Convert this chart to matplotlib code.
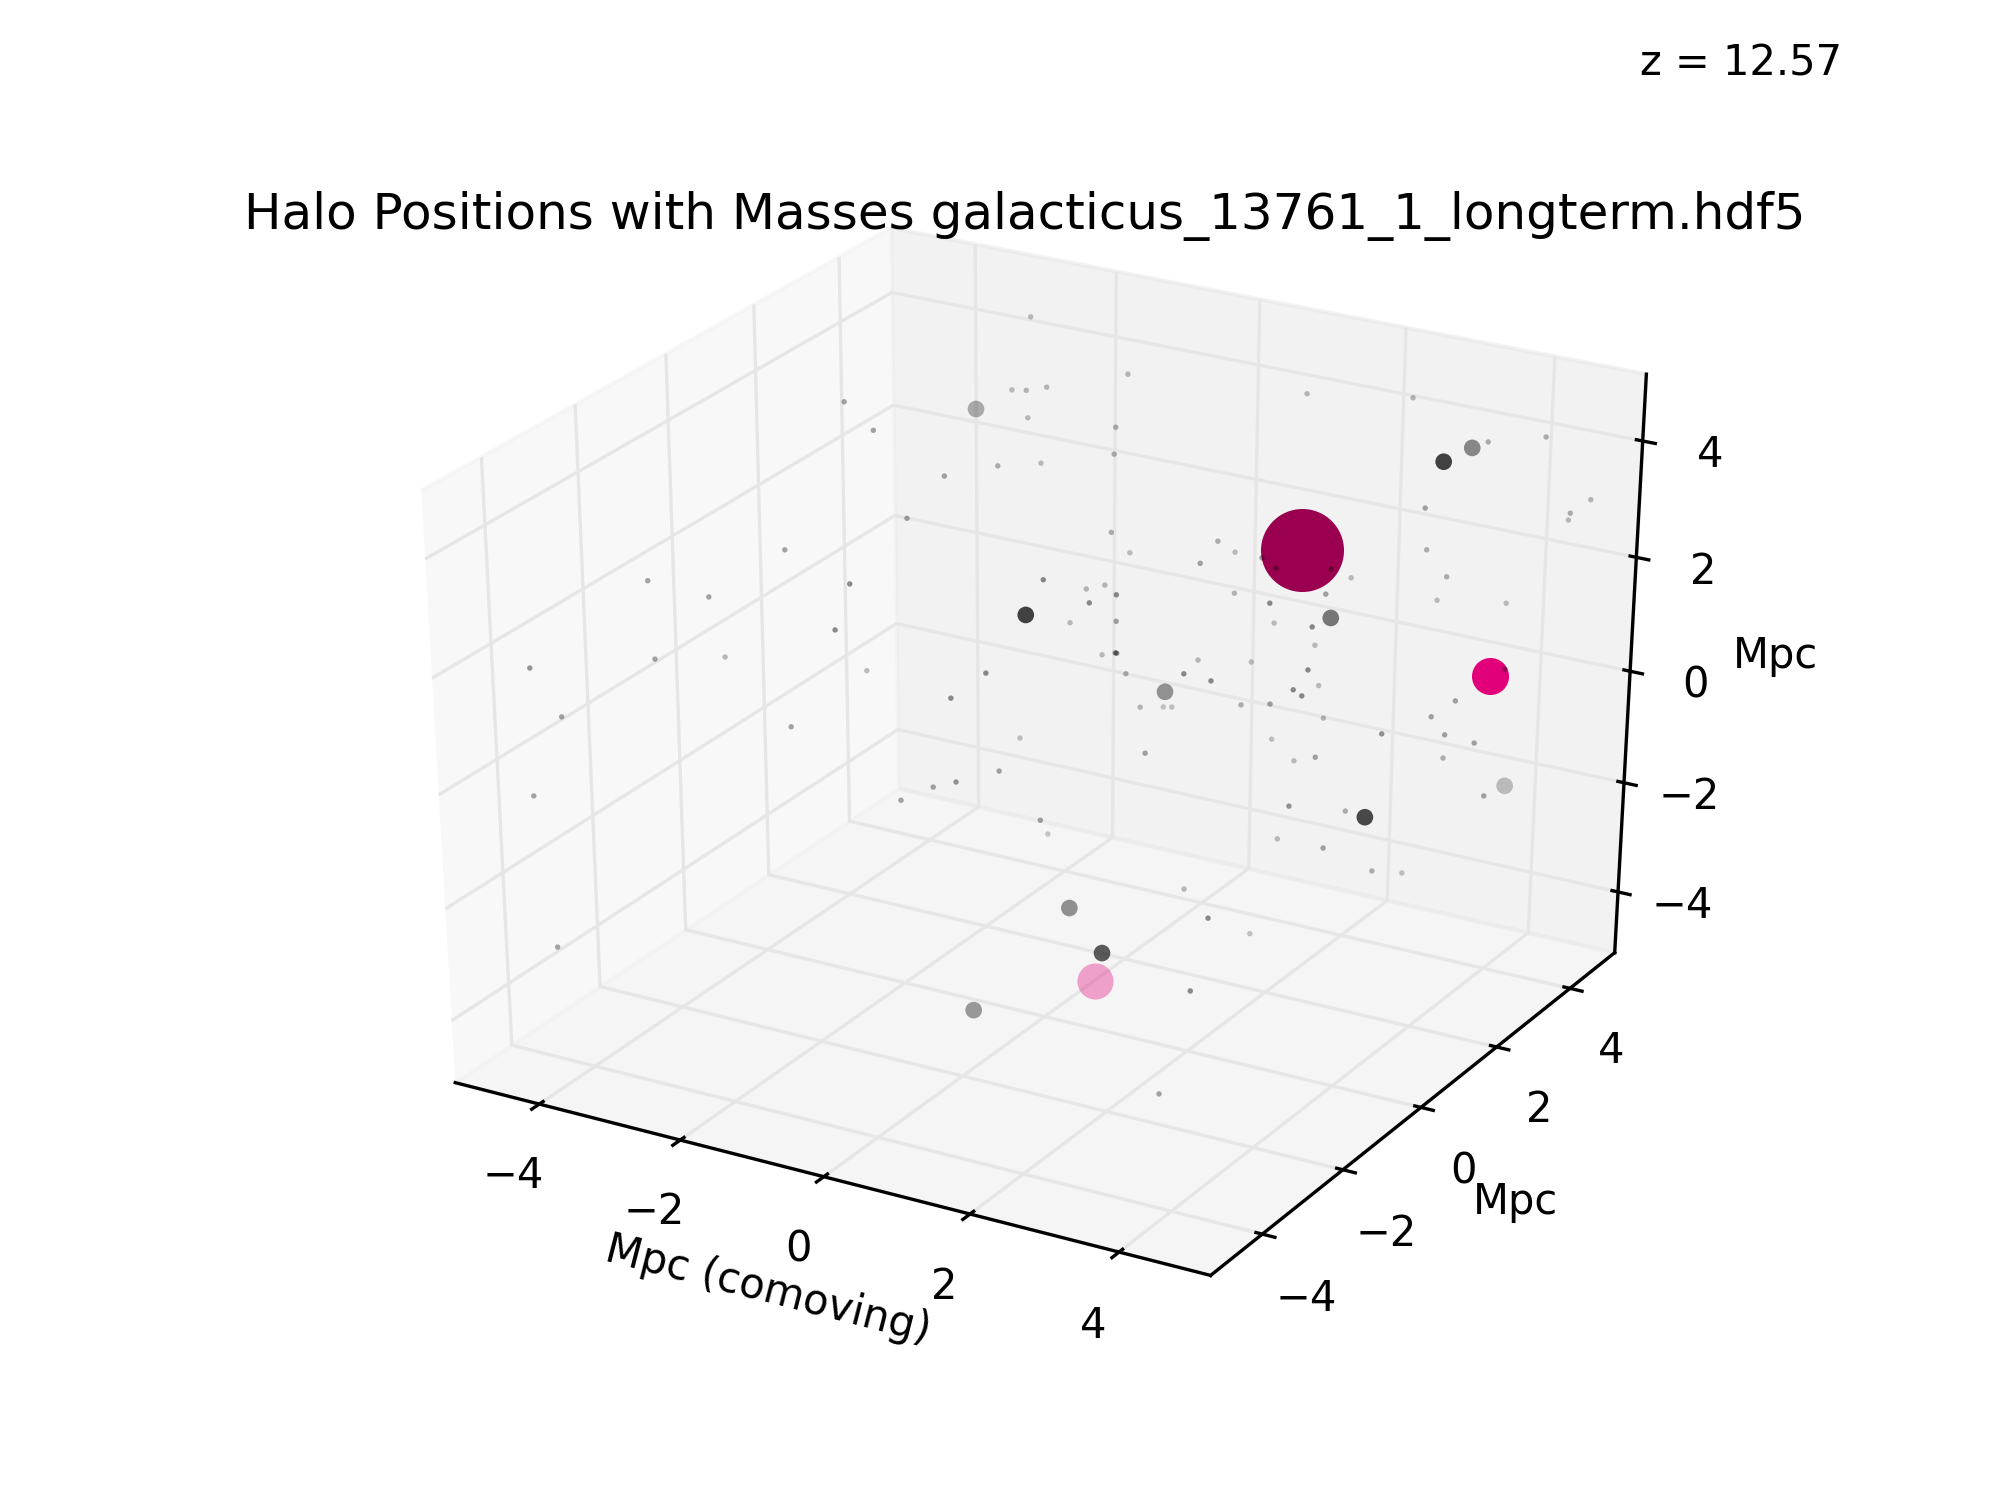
import numpy as np
import matplotlib
matplotlib.use("Agg")
import matplotlib.pyplot as plt

# small halos, read against a +-5 box (depth is a guess, one view only gives two coordinates)
small_x = [-2.62,-2.24,-1.31,-1.81,-3.46,-4.05,-4.52,-2.59,-2.80,-4.36,-3.99,-4.32,-2.38,-2.50,-1.19,-1.59,-1.40,-1.13,-1.38,-0.22,0.89,-0.61,-0.05,1.18,2.55,4.26,3.53,4.86,4.61,4.59,3.77,0.86,1.10,2.22,2.44,2.00,2.78,2.96,3.65,3.90,4.82,4.07,
           3.96,4.83,-0.02,0.54,0.78,0.93,0.58,0.33,0.93,2.44,2.89,3.59,2.95,3.43,3.47,0.75,0.92,0.94,1.99,2.67,-0.78,1.06,1.81,2.16,3.39,3.53,3.21,3.32,4.85,4.24,-3.96,-4.39,-4.16,-3.43,-1.25,-0.33,-0.61,-1.19,-1.50,-1.94,-0.06,0.04,
           1.25,1.55,1.66,2.55,2.92,3.60,2.95,1.32,3.24,3.51,4.95,4.12,4.50,4.34,4.11,4.65,3.19,3.91,3.05,3.64,4.27,4.65,1.85,2.17,2.72,1.95,2.66]
small_y = [0,0,0,0,0,-2,0,0,0,-4,-2,0,0,4,4,2,2,2,2,2,0,0,0,4,4,4,4,4,4,4,2,0,0,0,0,0,0,0,0,0,0,2,
           2,2,0,0,0,0,0,0,0,0,0,0,0,0,0,0,0,0,0,0,0,0,0,0,0,0,0,0,2,2,-4,-4,-4,0,0,0,0,0,0,0,0,0,
           0,0,0,0,0,0,0,0,0,0,0,2,2,0,2,2,0,0,0,0,0,0,0,0,0,0,-2]
small_z = [4.81,4.44,3.93,3.10,2.13,2.39,1.04,1.79,0.95,1.81,1.09,0.06,0.37,4.52,3.88,4.39,4.43,4.55,3.98,4.12,4.86,4.28,4.47,4.15,4.43,4.22,3.95,3.34,3.05,2.93,3.83,3.58,3.31,3.80,3.68,3.38,3.68,3.56,3.73,3.66,4.36,2.78,
           2.36,2.55,2.56,2.56,2.69,2.57,2.34,1.94,2.13,3.01,2.97,3.31,2.66,2.73,2.44,1.52,1.60,1.60,1.78,1.94,0.78,1.29,1.50,1.48,2.01,1.79,1.63,1.56,1.46,0.75,1.11,-0.35,-2.89,-0.90,0.22,-0.20,-0.85,-1.21,-1.39,-1.75,-1.54,-1.75,
           0.78,0.87,0.90,1.19,1.31,1.27,0.73,0.02,0.45,0.59,1.68,0.14,0.11,1.22,-0.26,-0.75,-0.33,-0.20,-0.93,-0.91,-1.11,-1.03,-2.16,-2.57,-2.67,-3.92,-4.39]
small_alpha = [.34,.34,.34,.34,.34,.34,.34,.44,.44,.4,.34,.26,.24,.24,.26,.24,.26,.26,.24,.29,.29,.29,.24,.26,.26,.29,.29,.26,.29,.24,.34,.29,.24,.29,.24,.34,.34,.34,.34,.24,.29,.29,
               .24,.24,.44,.26,.26,.44,.44,.24,.34,.26,.44,.34,.24,.44,.24,.24,.44,.44,.26,.22,.44,.29,.44,.44,.44,.24,.44,.44,.34,.34,.34,.34,.34,.34,.44,.22,.34,.4,.34,.34,.34,.2,
               .26,.2,.22,.29,.34,.26,.22,.34,.24,.34,.34,.34,.34,.4,.29,.34,.4,.29,.24,.34,.29,.22,.26,.44,.22,.44,.34]

# mid sized halos
mid_x = [-2.07,3.33,3.98,-0.25,3.66,1.57,4.91,4.16,0.77,0.33,0.21]
mid_y = [2,4,2,0,0,0,2,0,0,0,-2]
mid_z = [3.95,3.80,4.64,1.91,2.94,1.13,-0.50,-0.23,-3.62,-2.96,-3.71]
mid_alpha = [.3,.44,.735,.735,.51,.4,.23,.7,.63,.41,.375]

# the three main progenitors
main_x = [3.28,4.67,0.68]
main_y = [0,2,0]
main_z = [3.94,1.29,-4.15]
main_size = [397,79,75]
main_color = ["#9b0050","#e2007a","#e2007a"]
main_alpha = [1,1,0.35]

x_lim = 5.21
y_lim = 5.25
z_lim = 5.13


def black_with_alpha(alpha):
    rgba = np.zeros((len(alpha), 4))
    rgba[:, 3] = alpha
    return rgba


plt.rcParams['grid.color'] = (0.9, 0.9, 0.9)

fig = plt.figure(figsize=(2000 / 300, 5), dpi=300)
ax = fig.add_axes([0.146, 0.1233, 0.733, 0.757], projection='3d', computed_zorder=False)
# old style 3d box, stretched to the whole axes rectangle
ax.apply_aspect = lambda position=None: None
ax.set_box_aspect((1, 1, 1))

xs = x_lim / 5
ys = y_lim / 5
zs = z_lim / 5
for i in range(len(main_x)):
    ax.scatter(main_x[i] * xs, main_y[i] * ys, main_z[i] * zs, s=main_size[i], color=main_color[i], alpha=main_alpha[i],
               linewidths=0, depthshade=False, zorder=1)
ax.scatter(np.array(mid_x) * xs, np.array(mid_y) * ys, np.array(mid_z) * zs, s=16, color=black_with_alpha(mid_alpha),
           linewidths=0, depthshade=False, zorder=2)
ax.scatter(np.array(small_x) * xs, np.array(small_y) * ys, np.array(small_z) * zs, s=1.7, color=black_with_alpha(small_alpha),
           linewidths=0, depthshade=False, zorder=3)

ax.set_xlim(-x_lim, x_lim)
ax.set_ylim(-y_lim, y_lim)
ax.set_zlim(-z_lim, z_lim)
ax.set_xticks([-4, -2, 0, 2, 4])
ax.set_yticks([-4, -2, 0, 2, 4])
ax.set_zticks([-4, -2, 0, 2, 4])
ax.tick_params(pad=1.3)
ax.set_xlabel("Mpc (comoving)", labelpad=-0.7)
ax.set_ylabel("Mpc", labelpad=-0.4)
ax.set_zlabel("Mpc", labelpad=-0.3)
ax.set_title("Halo Positions with Masses galacticus_13761_1_longterm.hdf5", y=1.016)
ax.text2D(0.82, 0.95, "z = 12.57", transform=fig.transFigure)
fig.savefig("out.png")
